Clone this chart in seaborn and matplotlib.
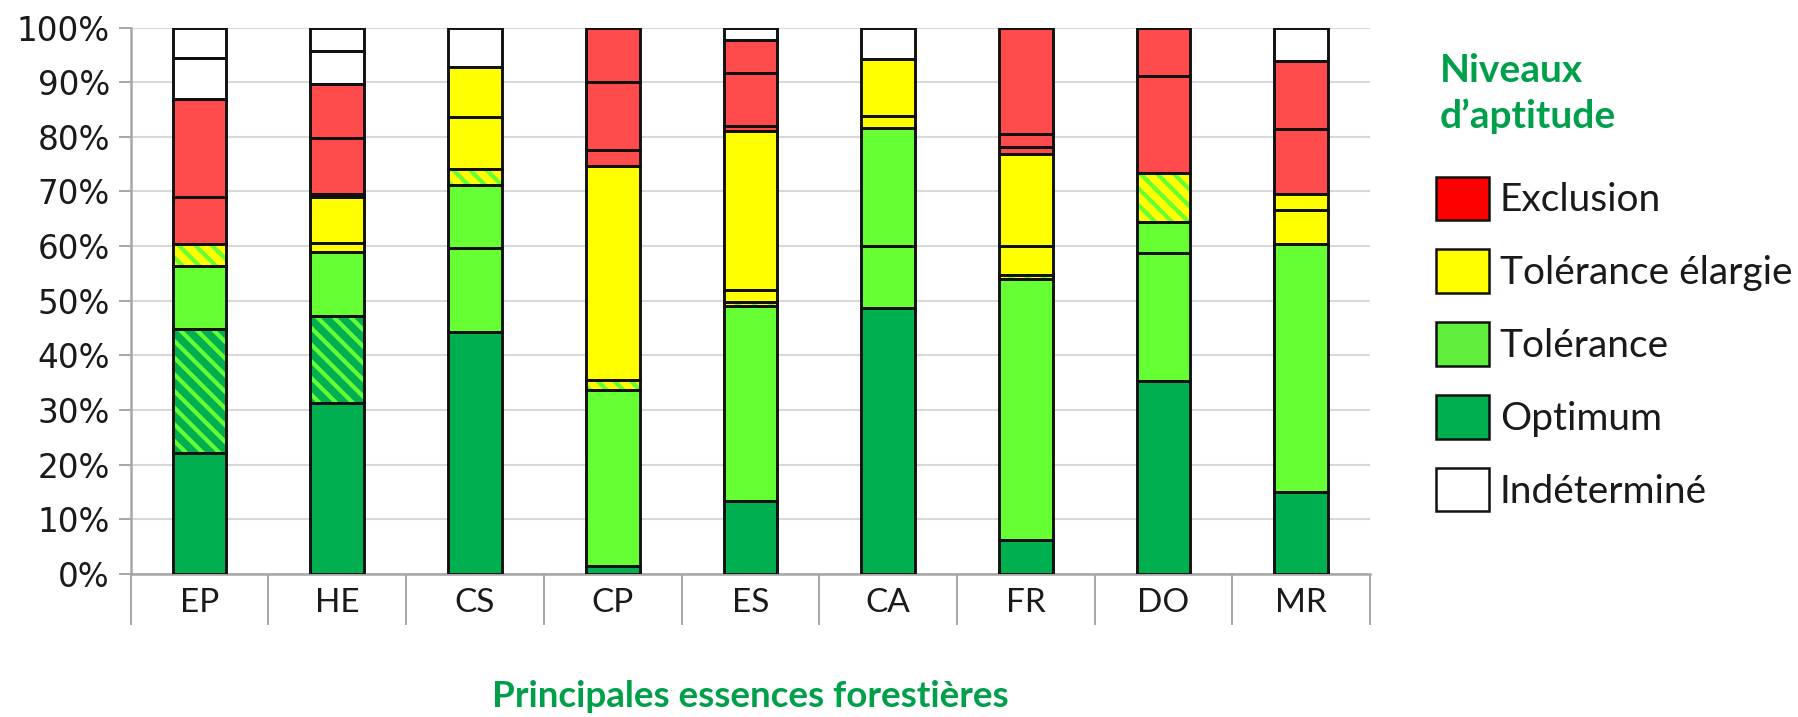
import numpy as np
import pandas as pd
import matplotlib
matplotlib.use("Agg")
import matplotlib.pyplot as plt
import seaborn as sns
from matplotlib.patches import Patch
from matplotlib.ticker import PercentFormatter

# Species (x categories)
species = ["EP", "HE", "CS", "CP", "ES", "CA", "FR", "DO", "MR"]

# Stacked segments per species, bottom to top (% of area)
# codes: OPT optimum, OPT_H optimum hatched, TOL tolerance, TOLE extended tolerance,
#        TOLE_H extended tolerance hatched, EXC exclusion, IND undetermined
ep_levels = ["OPT", "OPT_H", "TOL", "TOLE_H", "EXC", "EXC", "IND", "IND"]
ep_values = [22.1, 22.8, 11.5, 3.9, 8.7, 18.0, 7.5, 5.5]

he_levels = ["OPT", "OPT_H", "TOL", "TOLE", "TOLE", "EXC", "EXC", "EXC", "IND", "IND"]
he_values = [31.3, 16.0, 11.7, 1.6, 8.4, 0.5, 10.2, 10.0, 6.0, 4.3]

cs_levels = ["OPT", "TOL", "TOL", "TOLE_H", "TOLE", "TOLE", "IND"]
cs_values = [44.2, 15.4, 11.5, 3.0, 9.5, 9.2, 7.2]

cp_levels = ["OPT", "TOL", "TOLE_H", "TOLE", "EXC", "EXC", "EXC"]
cp_values = [1.4, 32.2, 1.9, 39.2, 2.9, 12.4, 10.0]

es_levels = ["OPT", "TOL", "TOLE_H", "TOLE", "TOLE", "EXC", "EXC", "EXC", "IND"]
es_values = [13.3, 35.7, 0.8, 2.2, 29.0, 0.9, 9.7, 6.2, 2.2]

ca_levels = ["OPT", "TOL", "TOL", "TOLE", "TOLE", "IND"]
ca_values = [48.6, 11.5, 21.6, 2.2, 10.3, 5.8]

fr_levels = ["OPT", "TOL", "TOLE_H", "TOLE", "TOLE", "EXC", "EXC", "EXC"]
fr_values = [6.2, 47.7, 0.8, 5.4, 16.7, 1.4, 2.3, 19.5]

do_levels = ["OPT", "TOL", "TOL", "TOLE_H", "EXC", "EXC"]
do_values = [35.3, 23.5, 5.7, 8.9, 17.7, 8.9]

mr_levels = ["OPT", "TOL", "TOLE", "TOLE", "EXC", "EXC", "IND"]
mr_values = [15.1, 45.2, 6.3, 3.0, 11.9, 12.3, 6.2]

legend_labels = ["Exclusion", "Tolérance élargie", "Tolérance", "Optimum", "Indéterminé"]

# styles: (face, hatch, hatch colour)
DARK_GREEN = "#00B050"
LIGHT_GREEN = "#66FF33"
YELLOW = "#FFFF00"
RED = "#FF4B4B"
styles = {
    "OPT": (DARK_GREEN, None, DARK_GREEN),
    "OPT_H": (DARK_GREEN, "\\\\", LIGHT_GREEN),
    "TOL": (LIGHT_GREEN, None, LIGHT_GREEN),
    "TOLE": (YELLOW, None, YELLOW),
    "TOLE_H": (YELLOW, "\\\\", LIGHT_GREEN),
    "EXC": (RED, None, RED),
    "IND": ("#FFFFFF", None, "#FFFFFF"),
}
legend_colors = ["#FF0000", "#FFFF00", "#5FEE3C", DARK_GREEN, "#FFFFFF"]
TEXT_GREEN = "#00A04A"
GREY = "#A6A6A6"

# long table of segments
all_levels = [ep_levels, he_levels, cs_levels, cp_levels, es_levels,
              ca_levels, fr_levels, do_levels, mr_levels]
all_values = [ep_values, he_values, cs_values, cp_values, es_values,
              ca_values, fr_values, do_values, mr_values]
rows = []
for i, (sp, lv, vals) in enumerate(zip(species, all_levels, all_values)):
    bottoms = np.concatenate([[0], np.cumsum(vals)[:-1]])
    for l, v, b in zip(lv, vals, bottoms):
        rows.append({"species": sp, "pos": i, "level": l, "value": v, "bottom": b})
df = pd.DataFrame(rows)

sns.set_theme(style="white")
plt.rcParams["font.family"] = ["Lato", "DejaVu Sans"]
plt.rcParams["hatch.linewidth"] = 3.0

fig = plt.figure(figsize=(17.99, 7.17), dpi=100)
ax = fig.add_axes([0.0727, 0.1994, 0.6888, 0.7622])

width = 0.39
for _, r in df.iterrows():
    face, hatch, hcol = styles[r["level"]]
    ax.bar(r["pos"], r["value"], bottom=r["bottom"], width=width,
           color=face, hatch=hatch, edgecolor=hcol, linewidth=0, zorder=2)
    ax.bar(r["pos"], r["value"], bottom=r["bottom"], width=width,
           fill=False, edgecolor="#111111", linewidth=2.1, zorder=3)

# y axis
ax.set_ylim(0, 100)
ax.set_yticks(np.arange(0, 101, 10))
ax.yaxis.set_major_formatter(PercentFormatter(decimals=0))
ax.tick_params(axis="y", which="major", left=True, length=9, width=1.4,
               color=GREY, pad=6, labelsize=23.5, labelcolor="#1a1a1a")
plt.setp(ax.get_yticklabels(), family="DejaVu Sans")
ax.yaxis.grid(True, color="#D9D9D9", linewidth=1.5)
ax.set_axisbelow(True)

# x axis: boundary ticks as separators, labels on minor ticks
ax.set_xlim(-0.5, len(species) - 0.5)
ax.set_xticks(np.arange(-0.5, len(species), 1))
ax.set_xticklabels([])
ax.set_xticks(np.arange(len(species)), minor=True)
ax.set_xticklabels(species, minor=True)
ax.tick_params(axis="x", which="major", bottom=True, length=36.7, width=1.4,
               color=GREY, direction="out")
ax.tick_params(axis="x", which="minor", bottom=True, length=0, pad=10,
               labelsize=24, labelcolor="#1a1a1a")

sns.despine(ax=ax, top=True, right=True)
for s in ["left", "bottom"]:
    ax.spines[s].set_color(GREY)
    ax.spines[s].set_linewidth(1.8)

ax.set_xlabel("Principales essences forestières", fontsize=26.5, fontweight="bold",
              color=TEXT_GREEN, labelpad=36)

# legend
handles = [Patch(facecolor=c, edgecolor="#111111", linewidth=1.8) for c in legend_colors]
fig.legend(handles, legend_labels, loc="upper left", bbox_to_anchor=(0.7982, 0.7538),
           frameon=False, borderpad=0, borderaxespad=0, fontsize=28,
           handlelength=1.36, handleheight=1.35, labelspacing=0.75,
           handletextpad=0.28, labelcolor="#1a1a1a")
fig.text(0.8004, 0.9266, "Niveaux\nd’aptitude", ha="left", va="top", fontsize=28,
         fontweight="bold", color=TEXT_GREEN, linespacing=1.36)

fig.savefig("out.png", dpi=100)
